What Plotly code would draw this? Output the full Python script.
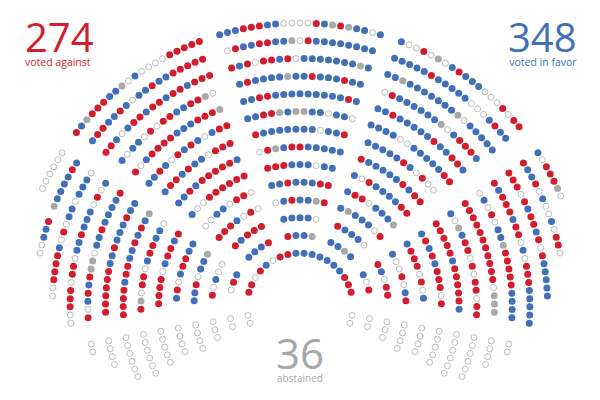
import math
import plotly.graph_objects as go

# ---------------- data ----------------
against_total = 274
favor_total = 348
abstain_total = 36
labels = {"against": "voted against", "favor": "voted in favor", "abstain": "abstained"}

# seat votes per block, outer row first
# b = in favor, r = against, g = abstained, e = absent, . = no seat
upper_left = ["rbgrrrbbgebeeeerrrrr", "brrbbrbebbrbbrrrrr", "rrbebrrbrrbrrbrrr", "bebbererrbbrrge",
              "rebrrrrbbbrrrg", "bbrberbrbebrr", "brrbrbberrr", "bbrbrrrrrb", "beerrrrrr",
              "eebberre", "rrrbere", "rbrrr", "bbbr"]
centre = ["bbbrrrbbeeeerbgrgbbeb", "erbbrrbbgerbbbbbbbb", "rbrerrbrebbbbbbbgb", "brbbbbgbbrbbbrbb",
          "bbrrbbbbbbbbbrb", "bbrrgbggbbebbe", "rbbbbbbbebbr", "ergbrrbbbbb", "rrrbbbebb",
          "bbrbbbrr", "ebrbbgr", "bbbbe", "rbbg"]
upper_right = ["beeregebrbbbeeererr", "bbbbbrbbbbbeeebrbb", "bbgbbbbbbbgebbbbb", "erbbbbbbgebrrrb",
               "bbrbbbbbrbbrrb", "bbbbeebbbbbrr", "bbbbbrberee", "rbbbbbrbrr", "berbbbbrr",
               "brrebbbg", "bgbbber", "rbbbe", "bbgb"]
left_wing = ["eeeeee", "brbbbbg.rbbee", "ebbbebberebrrrree", "berebbbrbberrerrree",
             "rbbbbrbbeggrbrber", "bbrbbbrbbrrrrrr", "gbrbrbbrrbrrrr", "ebbrrberregr",
             "rbrrberrrr", "bbrrberb", "gbberbb", "eeber", "bre"]
right_wing = ["berrrge", "rbbrebeeberre", "rrrerbrrbrerbbbbb", "rbrrrbrreberrrbbbbb",
              "eberebbgrrrrrbbbb", "rrrrrrrrrrreggg", "begbrrererrerr", "rrrrrbrrrrrb",
              "brbrbrrrer", "brrrereb", "beerebr", "rberr", "ber"]
front_row = "rrerberrbbbbbbbrrr"
absent_rows = [4, 5, 6, 7, 8, 9, 10, 11, 12, 13]
absent_counts = [2, 4, 6, 6, 5, 4, 4, 3, 2, 2]

# ---------------- layout of the hemicycle ----------------
CX, CY = 300, 306
R0, DR = 283, 17.7
SP = 8.15      # seat spacing along the arc (px)
GAP = 10.5     # half aisle (px)


def radius(k):
    return R0 - DR * k


seats = []  # (x, y, code)


def place(angles, r, codes):
    for a, c in zip(angles, codes):
        if c == ".":
            continue
        seats.append((CX + r * math.cos(a), CY - r * math.sin(a), c))


def centred_block(rows, centre_deg, k0=0):
    for i, row in enumerate(rows):
        r = radius(k0 + i)
        step = SP / r
        n = len(row)
        start = math.radians(centre_deg) + step * (n - 1) / 2
        place([start - j * step for j in range(n)], r, row)


def edge_block(rows, edge_deg, direction, k0=0):
    for i, row in enumerate(rows):
        r = radius(k0 + i)
        step = SP / r
        a0 = math.radians(edge_deg) + direction * GAP / r
        place([a0 + direction * j * step for j in range(len(row))], r, row)


centred_block(upper_left, 126.5)
centred_block(centre, 90)
centred_block(upper_right, 54.15)
edge_block(left_wing, 145.1, +1)
edge_block(right_wing, 34.9, -1)
centred_block([front_row], 90, k0=13)

# absent members, below the wings
for k, n in zip(absent_rows, absent_counts):
    r = radius(k)
    step = SP / r
    a0 = math.radians(190.3)
    place([a0 + j * step for j in range(n)], r, "e" * n)
    a1 = math.radians(-10.3)
    place([a1 - j * step for j in range(n)], r, "e" * n)

RED, BLUE, GREY = "#d51c2c", "#4170b8", "#a8a8a8"
colour = {"r": RED, "b": BLUE, "g": GREY}

fig = go.Figure()
for code in ["r", "b", "g"]:
    pts = [s for s in seats if s[2] == code]
    fig.add_trace(go.Scatter(x=[p[0] for p in pts], y=[p[1] for p in pts], mode="markers",
                             marker=dict(size=7, color=colour[code], line=dict(width=0)),
                             hoverinfo="skip", showlegend=False))
pts = [s for s in seats if s[2] == "e"]
fig.add_trace(go.Scatter(x=[p[0] for p in pts], y=[p[1] for p in pts], mode="markers",
                         marker=dict(size=6, color="white", line=dict(width=1, color="#bcbcbc")),
                         hoverinfo="skip", showlegend=False))

FONT = "Open Sans"


def big(n, size):
    return "<span style='font-size:%dpx'>%s</span>" % (size, n)


ann = [
    dict(x=23, y=7, text=big(against_total, 40) + "<br>" + labels["against"],
         xanchor="left", yanchor="top", align="left",
         font=dict(size=10.5, color=RED, family=FONT)),
    dict(x=579, y=7, text=big(favor_total, 40) + "<br>" + labels["favor"],
         xanchor="right", yanchor="top", align="right",
         font=dict(size=10.5, color=BLUE, family=FONT)),
    dict(x=300, y=322, text=big(abstain_total, 42) + "<br>" + labels["abstain"],
         xanchor="center", yanchor="top", align="center",
         font=dict(size=10, color=GREY, family=FONT)),
]
for a in ann:
    a.update(xref="x", yref="y", showarrow=False)

fig.update_layout(width=600, height=400, margin=dict(l=0, r=0, t=0, b=0),
                  paper_bgcolor="white", plot_bgcolor="white", annotations=ann,
                  xaxis=dict(range=[0, 600], visible=False, fixedrange=True),
                  yaxis=dict(range=[400, 0], visible=False, fixedrange=True))
fig.write_html("out.html", config={"displayModeBar": False},
               post_script="document.body.style.margin='0';document.body.style.overflow='hidden';")
